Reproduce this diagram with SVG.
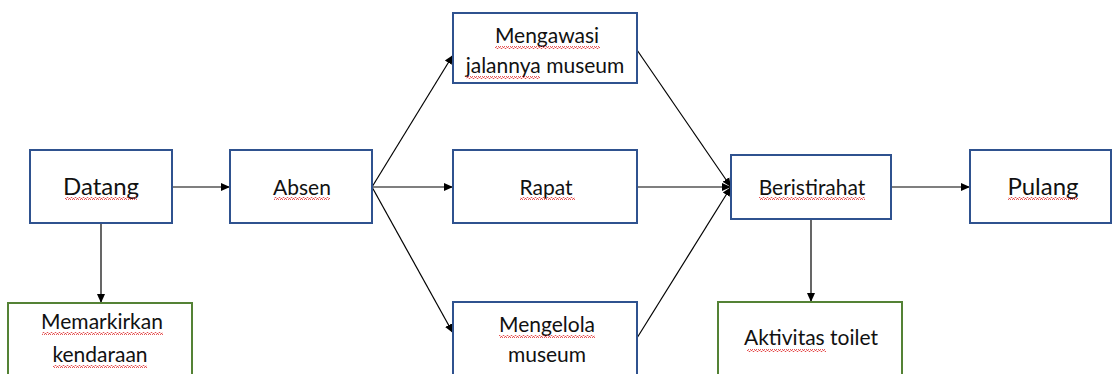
<svg xmlns="http://www.w3.org/2000/svg" width="1112" height="374" viewBox="0 0 1112 374">
<style>
.b{fill:#fff;stroke:#2f528f;stroke-width:2}
.g{fill:#fff;stroke:#548235;stroke-width:2}
.t{font-family:Lato,"Liberation Sans",sans-serif;font-size:21px;fill:#111;text-anchor:middle}
.L{font-size:24px}
.c{stroke:#000;stroke-width:1.2;fill:none;marker-end:url(#ah)}
.sq{fill:url(#wave)}
</style>
<defs>
<marker id="ah" markerWidth="10" markerHeight="10" refX="9" refY="5" orient="auto" markerUnits="userSpaceOnUse">
<path d="M0,1 L9,5 L0,9 Z" fill="#000"/>
</marker>
<pattern id="wave" width="4" height="3" patternUnits="userSpaceOnUse">
<path d="M0,2.5 L1,0.5 L2,0.5 L3,2.5 L4,2.5" fill="none" stroke="#e03030" stroke-width="0.8"/>
</pattern>
</defs>
<rect width="1112" height="374" fill="#fff"/>
<g id="connectors">
<line class="c" x1="172" y1="187" x2="230" y2="187"/>
<line class="c" x1="101" y1="223" x2="101" y2="303"/>
<line class="c" x1="372" y1="187" x2="453" y2="55"/>
<line class="c" x1="372" y1="187" x2="453" y2="187"/>
<line class="c" x1="372" y1="187" x2="453" y2="333"/>
<line class="c" x1="637" y1="50" x2="731" y2="187"/>
<line class="c" x1="637" y1="187" x2="731" y2="187"/>
<line class="c" x1="637" y1="338" x2="731" y2="187"/>
<line class="c" x1="891" y1="187" x2="970" y2="187"/>
<line class="c" x1="811" y1="219" x2="811" y2="302"/>
</g>
<g id="datang">
<rect class="b" x="30" y="150" width="142" height="73"/>
<text class="t L" x="101" y="195">Datang</text>
<rect class="sq" x="65" y="197" width="72" height="3"/>
</g>
<g id="absen">
<rect class="b" x="230" y="150" width="142" height="73"/>
<text class="t" x="302" y="195">Absen</text>
<rect class="sq" x="274" y="197" width="56" height="3"/>
</g>
<g id="mengawasi">
<rect class="b" x="453" y="13" width="184" height="70"/>
<text class="t" x="547" y="43">Mengawasi</text>
<text class="t" x="545" y="73">jalannya museum</text>
<rect class="sq" x="495" y="46" width="105" height="3"/>
<rect class="sq" x="466" y="76" width="74" height="3"/>
</g>
<g id="rapat">
<rect class="b" x="453" y="150" width="184" height="73"/>
<text class="t" x="546" y="195">Rapat</text>
<rect class="sq" x="520" y="197" width="55" height="3"/>
</g>
<g id="mengelola">
<rect class="b" x="453" y="302" width="184" height="80"/>
<text class="t" x="547" y="332">Mengelola</text>
<text class="t" x="547" y="362">museum</text>
<rect class="sq" x="499" y="335" width="96" height="3"/>
</g>
<g id="beristirahat">
<rect class="b" x="731" y="155" width="160" height="64"/>
<text class="t" x="812" y="195">Beristirahat</text>
<rect class="sq" x="759" y="197" width="106" height="3"/>
</g>
<g id="pulang">
<rect class="b" x="970" y="150" width="141" height="73"/>
<text class="t L" x="1043" y="195">Pulang</text>
<rect class="sq" x="1008" y="197" width="70" height="3"/>
</g>
<g id="memarkirkan">
<rect class="g" x="8" y="303" width="184" height="80"/>
<text class="t" x="102" y="329">Memarkirkan</text>
<text class="t" x="100" y="362">kendaraan</text>
<rect class="sq" x="42" y="332" width="121" height="3"/>
<rect class="sq" x="53" y="365" width="94" height="3"/>
</g>
<g id="aktivitas">
<rect class="g" x="718" y="302" width="184" height="80"/>
<text class="t" x="811" y="345">Aktivitas toilet</text>
<rect class="sq" x="747" y="349" width="79" height="3"/>
</g>
</svg>
